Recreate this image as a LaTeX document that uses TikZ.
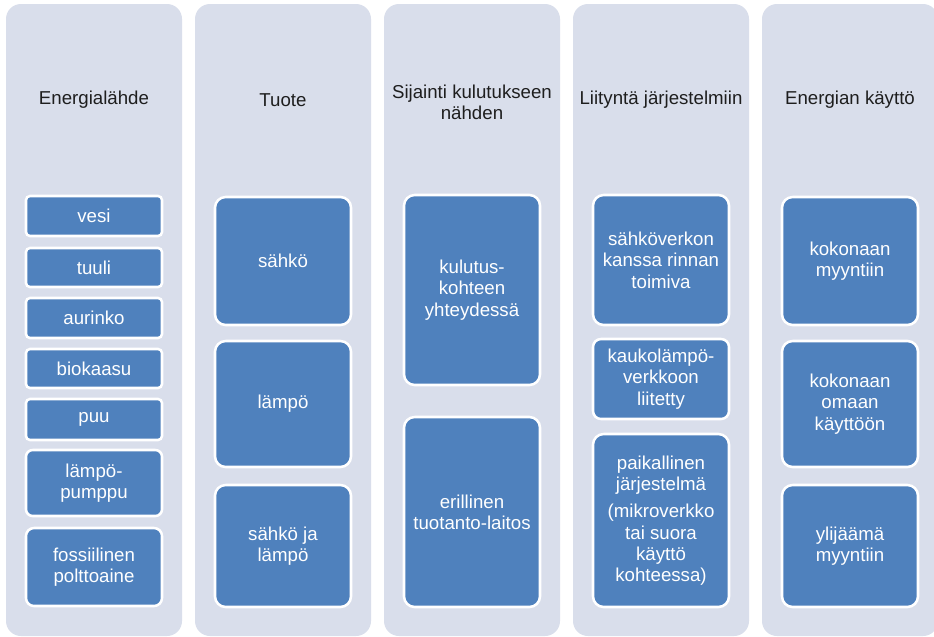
\documentclass[tikz,border=0pt]{standalone}
\usepackage{fontspec}
\setmainfont{Liberation Sans}
\definecolor{colbg}{RGB}{217,222,235}
\definecolor{boxblue}{RGB}{79,129,189}
\definecolor{headtxt}{RGB}{30,30,30}
\tikzset{
  column/.style={fill=colbg, draw=none, rounded corners=11.25pt, inner sep=0pt,
    minimum width=132pt, minimum height=474pt},
  blk/.style={draw=white, line width=1.9pt, fill=boxblue, text=white, align=center,
    inner sep=0pt, minimum width=102pt,
    font=\fontsize{14}{16}\selectfont},
  head/.style={text=headtxt, align=center, inner sep=0pt,
    font=\fontsize{14}{16}\selectfont},
}
% name, cx, ytop, ybottom, radius(pt), text
\newcommand{\smbox}[6]{%
  \node[blk, rounded corners=#5pt, minimum height={(#4-#3)*0.75pt}] (#1) at (#2,{(#3+#4)/2}) {#6};}
\begin{document}
\begin{tikzpicture}[x=0.75pt,y=-0.75pt]
\clip (0,0) rectangle (934,636);
\fill[white] (0,0) rectangle (934,636);
% columns
\node[column] (c1) at (94,320) {};
\node[column] (c2) at (283,320) {};
\node[column] (c3) at (472,320) {};
\node[column] (c4) at (661,320) {};
\node[column] (c5) at (850,320) {};
% headers
\node[head] (h1) at (94,100) {Energialähde};
\node[head] (h2) at (283,100) {Tuote};
\node[head] (h3) at (472,102) {Sijainti kulutukseen\\nähden};
\node[head] (h4) at (661,100) {Liityntä järjestelmiin};
\node[head] (h5) at (850,100) {Energian käyttö};
% column 1
\smbox{a1}{94}{196}{236}{3}{vesi}
\smbox{a2}{94}{248}{287}{3}{tuuli}
\smbox{a3}{94}{298}{338}{3}{aurinko}
\smbox{a4}{94}{349}{388}{3}{biokaasu}
\smbox{a5}{94}{399}{440}{3}{puu}
\smbox{a6}{94}{450}{516}{5}{lämpö-\\pumppu}
\smbox{a7}{94}{528}{606}{6}{fossiilinen\\polttoaine}
% column 2
\smbox{b1}{283}{197}{325}{8}{sähkö}
\smbox{b2}{283}{341}{467}{8}{lämpö}
\smbox{b3}{283}{485}{607}{8}{sähkö ja\\lämpö}
% column 3
\smbox{d1}{472}{195}{385}{8}{kulutus-\\kohteen\\yhteydessä}
\smbox{d2}{472}{417}{607}{8}{erillinen\\tuotanto-laitos}
% column 4
\smbox{e1}{661}{195}{325}{8}{sähköverkon\\kanssa rinnan\\toimiva}
\smbox{e2}{661}{339}{419}{6}{kaukolämpö-\\verkkoon\\liitetty}
\smbox{e3}{661}{434}{607}{8}{paikallinen\\järjestelmä\\[4.5pt](mikroverkko\\tai suora\\käyttö\\kohteessa)}
% column 5
\smbox{f1}{850}{197}{325}{8}{kokonaan\\myyntiin}
\smbox{f2}{850}{341}{467}{8}{kokonaan\\omaan\\käyttöön}
\smbox{f3}{850}{485}{607}{8}{ylijäämä\\myyntiin}
\end{tikzpicture}
\end{document}
